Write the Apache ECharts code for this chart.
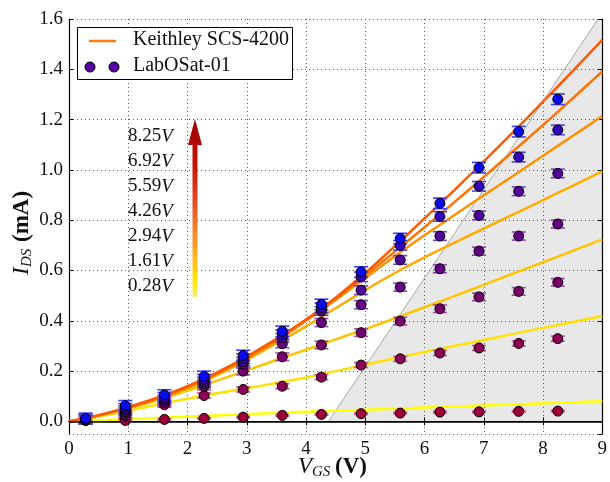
<!DOCTYPE html>
<html>
<head>
<meta charset="utf-8">
<script src="https://cdn.jsdelivr.net/npm/echarts@6/dist/echarts.min.js"></script>
<style>
  html, body { margin: 0; padding: 0; background: #fff; }
  #chart { width: 610px; height: 482px; }
</style>
</head>
<body>
<div id="chart"></div>
<script>
// Transfer characteristics I_DS(V_GS) at several drain voltages:
// Keithley SCS-4200 fits (lines) vs LabOSat-01 measurements (points).

const FONT = '"Liberation Serif", "DejaVu Serif", serif';

// Drain voltages (V), lowest to highest
const vdsValues = ['0.28', '1.61', '2.94', '4.26', '5.59', '6.92', '8.25'];

// LabOSat-01 measurement gate voltages (V)
const vgsMeasured = [0.28, 0.95, 1.61, 2.28, 2.94, 3.60, 4.26, 4.93, 5.59, 6.26, 6.92, 7.59, 8.25];

// LabOSat-01 drain current (mA), one list per drain voltage
const labosat028 = [0.004, 0.004, 0.008, 0.012, 0.017, 0.024, 0.028, 0.031, 0.033, 0.037, 0.038, 0.040, 0.041];
const labosat161 = [0.005, 0.022, 0.066, 0.103, 0.127, 0.140, 0.176, 0.224, 0.249, 0.272, 0.292, 0.310, 0.329];
const labosat294 = [0.006, 0.030, 0.075, 0.140, 0.200, 0.257, 0.304, 0.353, 0.399, 0.448, 0.495, 0.517, 0.553];
const labosat426 = [0.007, 0.038, 0.082, 0.150, 0.228, 0.309, 0.393, 0.464, 0.534, 0.607, 0.677, 0.737, 0.785];
const labosat559 = [0.008, 0.045, 0.088, 0.158, 0.238, 0.333, 0.439, 0.522, 0.642, 0.737, 0.819, 0.915, 0.986];
const labosat692 = [0.009, 0.052, 0.096, 0.168, 0.250, 0.345, 0.452, 0.575, 0.700, 0.815, 0.935, 1.051, 1.159];
const labosat825 = [0.012, 0.062, 0.105, 0.179, 0.262, 0.358, 0.465, 0.594, 0.727, 0.867, 1.009, 1.152, 1.281];

// Half-height of the error bars (mA) for each drain voltage
const errHalf = [0.003, 0.010, 0.015, 0.016, 0.017, 0.019, 0.021];

// Keithley SCS-4200 curve gate voltages (V)
const vgsFit = [0, 0.5, 1, 1.5, 2, 2.5, 3, 3.5, 4, 4.5, 5, 5.5, 6, 6.5, 7, 7.5, 8, 8.5, 9];

// Keithley SCS-4200 drain current (mA)
const keithley028 = [0, 0.004, 0.009, 0.014, 0.019, 0.024, 0.029, 0.034, 0.038, 0.042, 0.046, 0.050, 0.055, 0.059, 0.063, 0.067, 0.072, 0.076, 0.080];
const keithley161 = [0, 0.019, 0.042, 0.067, 0.090, 0.112, 0.132, 0.153, 0.175, 0.200, 0.226, 0.251, 0.276, 0.300, 0.324, 0.348, 0.372, 0.395, 0.419];
const keithley294 = [0, 0.022, 0.051, 0.084, 0.122, 0.162, 0.203, 0.244, 0.285, 0.326, 0.367, 0.410, 0.454, 0.498, 0.543, 0.588, 0.633, 0.678, 0.724];
const keithley426 = [0, 0.023, 0.054, 0.089, 0.131, 0.184, 0.245, 0.310, 0.378, 0.450, 0.522, 0.590, 0.652, 0.710, 0.767, 0.823, 0.880, 0.937, 0.994];
const keithley559 = [0, 0.023, 0.055, 0.091, 0.135, 0.188, 0.250, 0.320, 0.400, 0.483, 0.570, 0.657, 0.740, 0.820, 0.899, 0.977, 1.056, 1.135, 1.214];
const keithley692 = [0, 0.024, 0.056, 0.093, 0.138, 0.192, 0.254, 0.325, 0.403, 0.488, 0.581, 0.675, 0.772, 0.871, 0.972, 1.075, 1.178, 1.284, 1.392];
const keithley825 = [0, 0.025, 0.057, 0.095, 0.140, 0.195, 0.258, 0.328, 0.405, 0.492, 0.590, 0.697, 0.807, 0.919, 1.034, 1.151, 1.271, 1.393, 1.517];

// Edge of the shaded region (V_GS, I_DS)
const satBoundary = [[4.38, 0], [8.93, 1.6]];

const labosatAll = [labosat028, labosat161, labosat294, labosat426, labosat559, labosat692, labosat825];
const keithleyAll = [keithley028, keithley161, keithley294, keithley426, keithley559, keithley692, keithley825];

const lineColors   = ['#ffff00', '#ffe000', '#ffc400', '#ffab00', '#ff9000', '#ff7400', '#ff5a00'];
const markerColors = ['#a0003c', '#8c0055', '#78006b', '#650085', '#50009c', '#3300c0', '#0a0af0'];
const barColors    = ['#d2568a', '#c0508e', '#9f4aa0', '#8a44b0', '#7040c0', '#5040d8', '#3a3aff'];

const X_MIN = 0, X_MAX = 9, Y_MIN = -0.05, Y_MAX = 1.6;

const chart = echarts.init(document.getElementById('chart'), null, { renderer: 'canvas' });

const series = [];

// Shaded region right of the boundary line
series.push({
  type: 'custom',
  z: 0,
  silent: true,
  data: [[0]],
  renderItem: function (params, api) {
    const p0 = api.coord(satBoundary[0]);
    const p1 = api.coord(satBoundary[1]);
    const pTR = api.coord([X_MAX, Y_MAX]);
    const pBR = api.coord([X_MAX, 0]);
    return {
      type: 'group',
      children: [
        { type: 'polygon', shape: { points: [p0, p1, pTR, pBR] }, style: { fill: '#e8e8e8' } },
        { type: 'line', shape: { x1: p0[0], y1: p0[1], x2: p1[0], y2: p1[1] }, style: { stroke: '#a8a8a8', lineWidth: 1 } }
      ]
    };
  }
});

// Keithley curves
keithleyAll.forEach(function (vals, i) {
  const s = {
    type: 'line',
    name: 'Keithley ' + vdsValues[i],
    z: 3,
    smooth: 0.3,
    showSymbol: false,
    silent: true,
    lineStyle: { color: lineColors[i], width: 2.5 },
    data: vgsFit.map(function (x, j) { return [x, vals[j]]; })
  };
  if (i === 0) {
    s.markLine = {
      silent: true,
      symbol: 'none',
      label: { show: false },
      lineStyle: { color: '#000', width: 1.5, type: 'solid' },
      data: [{ yAxis: 0 }]
    };
  }
  series.push(s);
});

// LabOSat measurements: error bars then markers
labosatAll.forEach(function (vals, i) {
  series.push({
    type: 'custom',
    z: 4,
    silent: true,
    data: vgsMeasured.map(function (x, j) { return [x, vals[j], errHalf[i]]; }),
    renderItem: function (params, api) {
      const x = api.value(0), y = api.value(1), e = api.value(2);
      const pt = api.coord([x, y + e]);
      const pb = api.coord([x, y - e]);
      const hw = 7;
      const st = { stroke: barColors[i], lineWidth: 1.6 };
      return {
        type: 'group',
        children: [
          { type: 'line', shape: { x1: pt[0], y1: pt[1], x2: pb[0], y2: pb[1] }, style: st },
          { type: 'line', shape: { x1: pt[0] - hw, y1: pt[1], x2: pt[0] + hw, y2: pt[1] }, style: st },
          { type: 'line', shape: { x1: pb[0] - hw, y1: pb[1], x2: pb[0] + hw, y2: pb[1] }, style: st }
        ]
      };
    }
  });
  series.push({
    type: 'scatter',
    name: 'LabOSat ' + vdsValues[i],
    z: 5,
    silent: true,
    symbol: 'circle',
    symbolSize: 10,
    itemStyle: { color: markerColors[i], borderColor: '#000', borderWidth: 1, opacity: 1 },
    data: vgsMeasured.map(function (x, j) { return [x, vals[j]]; })
  });
});

const tickFont = { fontFamily: FONT, fontSize: 19, color: '#111' };
const gridLine = { show: true, lineStyle: { color: '#555', width: 1, type: [1, 3] } };

// Arrow labels (drain voltages), top to bottom
const arrowLabelTop = 138, arrowLabelStep = 25;
const arrowLabels = vdsValues.slice().reverse().map(function (v, k) {
  return {
    type: 'text',
    left: 128,
    top: arrowLabelTop + k * arrowLabelStep - 11,
    z: 100,
    style: {
      text: '{n|' + v + '}{v|V}',
      rich: {
        n: { fontFamily: FONT, fontSize: 19, fill: '#111' },
        v: { fontFamily: FONT, fontSize: 19, fontStyle: 'italic', fill: '#111' }
      }
    }
  };
});

const option = {
  animation: false,
  backgroundColor: '#fff',
  grid: { left: 69, right: 3, top: 19, bottom: 48, containLabel: false },
  xAxis: [
    {
      type: 'value', min: X_MIN, max: X_MAX, interval: 1, z: 1,
      axisLine: { show: true, lineStyle: { color: '#000', width: 1.2 } },
      axisTick: { show: true, inside: true, length: 4, lineStyle: { color: '#000' } },
      axisLabel: Object.assign({ margin: 6 }, tickFont),
      splitLine: gridLine
    },
    {
      type: 'value', min: X_MIN, max: X_MAX, interval: 1, position: 'top', z: 1,
      axisLine: { show: true, lineStyle: { color: '#000', width: 1.2 } },
      axisTick: { show: true, inside: true, length: 4, lineStyle: { color: '#000' } },
      axisLabel: { show: false },
      splitLine: { show: false }
    }
  ],
  yAxis: [
    {
      type: 'value', min: Y_MIN, max: Y_MAX, splitNumber: 8, z: 1,
      axisLine: { show: true, onZero: false, lineStyle: { color: '#000', width: 1.2 } },
      axisTick: { show: true, inside: true, length: 4, lineStyle: { color: '#000' } },
      axisLabel: Object.assign({
        margin: 6, showMinLabel: false,
        formatter: function (v) { return v < -1e-9 ? '' : v.toFixed(1); }
      }, tickFont),
      splitLine: gridLine
    },
    {
      type: 'value', min: Y_MIN, max: Y_MAX, splitNumber: 8, position: 'right', z: 1,
      axisLine: { show: true, onZero: false, lineStyle: { color: '#000', width: 1.2 } },
      axisTick: { show: true, inside: true, length: 4, lineStyle: { color: '#000' } },
      axisLabel: { show: false },
      splitLine: { show: false }
    }
  ],
  series: series,
  graphic: [
    // legend box
    { type: 'rect', z: 100, shape: { x: 77.5, y: 27.5, width: 215, height: 52 },
      style: { fill: '#fff', stroke: '#000', lineWidth: 1 } },
    { type: 'line', z: 101, shape: { x1: 89, y1: 41, x2: 116, y2: 41 },
      style: { stroke: '#ff7f0e', lineWidth: 2.5 } },
    { type: 'circle', z: 101, shape: { cx: 90, cy: 67, r: 5 },
      style: { fill: '#5a00a8', stroke: '#000', lineWidth: 1 } },
    { type: 'circle', z: 101, shape: { cx: 114, cy: 67, r: 5 },
      style: { fill: '#5a00a8', stroke: '#000', lineWidth: 1 } },
    { type: 'text', z: 101, left: 133, top: 30,
      style: { text: 'Keithley SCS-4200', fontFamily: FONT, fontSize: 20, fill: '#111' } },
    { type: 'text', z: 101, left: 133, top: 56,
      style: { text: 'LabOSat-01', fontFamily: FONT, fontSize: 20, fill: '#111' } },

    // drain-voltage arrow
    { type: 'polygon', z: 100,
      shape: { points: [[192.5, 297], [197.5, 297], [197.5, 145], [202, 145], [195, 119], [188, 145], [192.5, 145]] },
      style: {
        fill: new echarts.graphic.LinearGradient(0, 0, 0, 1, [
          { offset: 0, color: '#9b0000' },
          { offset: 0.25, color: '#c41000' },
          { offset: 0.45, color: '#e2451c' },
          { offset: 0.62, color: '#f5822a' },
          { offset: 0.78, color: '#ffb81e' },
          { offset: 0.9, color: '#ffe400' },
          { offset: 1, color: '#f4f07c' }
        ])
      } }
  ].concat(arrowLabels).concat([
    // x-axis title
    { type: 'text', z: 100, x: 298, y: 467,
      style: { text: 'V', fontFamily: FONT, fontSize: 23, fontStyle: 'italic', fill: '#111', verticalAlign: 'middle', align: 'left' } },
    { type: 'text', z: 100, x: 312, y: 472,
      style: { text: 'GS', fontFamily: FONT, fontSize: 15, fontStyle: 'italic', fill: '#111', verticalAlign: 'middle', align: 'left' } },
    { type: 'text', z: 100, x: 335, y: 467,
      style: { text: '(V)', fontFamily: FONT, fontSize: 23, fontWeight: 'bold', fill: '#111', verticalAlign: 'middle', align: 'left' } },
    // y-axis title, rotated
    { type: 'group', z: 100, x: 22, y: 228, rotation: Math.PI / 2,
      children: [
        { type: 'text', x: -47, y: 0,
          style: { text: 'I', fontFamily: FONT, fontSize: 23, fontStyle: 'italic', fill: '#111', verticalAlign: 'middle', align: 'left' } },
        { type: 'text', x: -39, y: 5,
          style: { text: 'DS', fontFamily: FONT, fontSize: 15, fontStyle: 'italic', fill: '#111', verticalAlign: 'middle', align: 'left' } },
        { type: 'text', x: -14, y: 0,
          style: { text: '(mA)', fontFamily: FONT, fontSize: 23, fontWeight: 'bold', fill: '#111', verticalAlign: 'middle', align: 'left' } }
      ] }
  ])
};

chart.setOption(option);
</script>
</body>
</html>
